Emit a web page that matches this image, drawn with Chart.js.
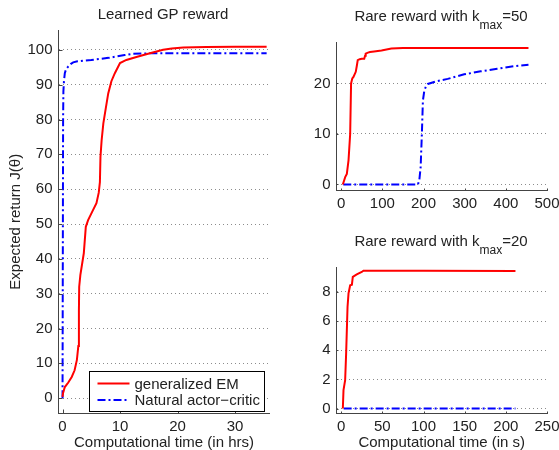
<!DOCTYPE html>
<html><head><meta charset="utf-8">
<script src="https://cdn.jsdelivr.net/npm/chart.js@4/dist/chart.umd.min.js"></script>
<style>
html,body{margin:0;padding:0;background:#fff;}
#wrap{position:relative;width:559px;height:450px;overflow:hidden;font-family:"Liberation Sans",Arial,sans-serif;color:#222;}
canvas{position:absolute;left:0;top:0;}
.ttl{position:absolute;font-size:15px;line-height:15px;white-space:nowrap;transform:translateX(-50%);}
.ttl sub{font-size:12px;line-height:0;vertical-align:-8px;}
</style></head><body>
<div id="wrap">
<canvas id="c1" width="559" height="450"></canvas>
<canvas id="c2" width="559" height="450"></canvas>
<canvas id="c3" width="559" height="450"></canvas>
<div class="ttl" style="left:163px;top:6px">Learned GP reward</div>
<div class="ttl" style="left:441px;top:8px">Rare reward with k<sub>max</sub>=50</div>
<div class="ttl" style="left:441px;top:233px">Rare reward with k<sub>max</sub>=20</div>
</div>
<script>
// ---------- data ----------
const seriesNames = ['generalized EM', 'Natural actor\u2212critic'];

// Learned GP reward (x in hrs)
const gpEmX = [0, 0.1, 0.4, 1.0, 1.6, 2.1, 2.5, 2.75, 2.85, 2.9, 3.1, 3.7, 4.05, 4.45, 5.3, 5.9, 6.3, 6.5, 6.6, 6.8, 7.1, 7.5, 7.95, 8.5, 9.1, 10.0, 11.1, 13, 15.2, 17.5, 19, 21, 25, 30, 35.5];
const gpEmY = [0.4, 1.5, 3.2, 4.5, 6.1, 8, 11, 15, 25, 32, 35.3, 41.6, 49.2, 51.1, 54, 56, 59, 62, 69.3, 74, 78.9, 83, 87.5, 91, 93.3, 96.2, 97.1, 98, 99, 100, 100.4, 100.7, 100.8, 100.9, 100.9];
const gpAcX = [0, 0.05, 0.1, 0.15, 0.25, 0.4, 0.6, 0.98, 1.4, 1.85, 2.6, 3.6, 5, 6.5, 8, 9.4, 10.8, 12.3, 15.2, 20, 25, 30, 35.5];
const gpAcY = [0, 40, 80, 88, 91, 93.3, 94.4, 95.2, 95.9, 96.4, 96.7, 96.9, 97.1, 97.4, 97.7, 98.1, 98.5, 98.9, 99, 99, 99, 99, 99];
const gpXTicks = [0, 10, 20, 30];
const gpYTicks = [0, 10, 20, 30, 40, 50, 60, 70, 80, 90, 100];

// Rare reward kmax=50 (x in s)
const k50EmX = [4, 9.7, 13.7, 17.8, 21.8, 24, 27, 29.8, 35.4, 38, 40.2, 45, 50, 56, 58, 59.5, 65, 70, 80, 98, 122, 150, 178, 300, 455];
const k50EmY = [0, 1.45, 2.1, 4.75, 10, 20, 21, 21.3, 22.3, 23.5, 24.6, 24.8, 24.9, 24.9, 25.5, 25.9, 26.1, 26.2, 26.3, 26.5, 26.9, 27.0, 27.0, 27.0, 27.0];
const k50AcX = [5, 100, 186.5, 190, 193, 196, 198.5, 202, 206, 210.6, 230, 258.8, 298.8, 339, 379, 419, 455];
const k50AcY = [0, 0, 0, 1, 3.4, 10, 16.6, 18.6, 19.4, 19.9, 20.4, 20.9, 21.8, 22.4, 22.9, 23.4, 23.7];
const k50XTicks = [0, 100, 200, 300, 400, 500];
const k50YTicks = [0, 10, 20];

// Rare reward kmax=20 (x in s)
const k20EmX = [2, 2.8, 4.8, 6, 7.7, 8.9, 10.9, 13, 14.1, 18.9, 25, 27, 100, 211.7];
const k20EmY = [0, 1.26, 1.94, 3.77, 6.97, 7.9, 8.46, 8.5, 9.03, 9.2, 9.37, 9.45, 9.45, 9.44];
const k20AcX = [3, 211.7];
const k20AcY = [0, 0];
const k20XTicks = [0, 50, 100, 150, 200, 250];
const k20YTicks = [0, 2, 4, 6, 8];

// ---------- styling ----------
const W = 559, H = 450;
const FF = '"Liberation Sans", Arial, sans-serif';
const TXT = '#222';
const AXIS = '#444';
const RED = '#ff0000', BLUE = '#0000ff';
const DASHDOT = [8, 3, 2, 3];

function pts(xs, ys) { return xs.map((x, i) => ({x: x, y: ys[i]})); }

function tickPlugin(len) {
  return {
    id: 'inTicks',
    afterDatasetsDraw(chart) {
      const ctx = chart.ctx, a = chart.chartArea, xs = chart.scales.x, ys = chart.scales.y;
      ctx.save();
      ctx.strokeStyle = AXIS; ctx.lineWidth = 1; ctx.setLineDash([]);
      ctx.beginPath();
      xs.ticks.forEach(t => { const p = Math.round(xs.getPixelForValue(t.value)) + 0.5; ctx.moveTo(p, a.bottom); ctx.lineTo(p, a.bottom - len); });
      ys.ticks.forEach(t => { const p = Math.round(ys.getPixelForValue(t.value)) + 0.5; ctx.moveTo(a.left, p); ctx.lineTo(a.left + len, p); });
      ctx.stroke();
      ctx.restore();
    }
  };
}

const legendPlugin = {
  id: 'boxLegend',
  afterDatasetsDraw(chart) {
    const ctx = chart.ctx, a = chart.chartArea;
    const bx = Math.round(a.left + 30) + 0.5, by = Math.round(a.bottom - 43) + 0.5, bw = 175, bh = 40;
    ctx.save();
    ctx.fillStyle = '#fff'; ctx.fillRect(bx, by, bw, bh);
    ctx.strokeStyle = '#000'; ctx.lineWidth = 1; ctx.setLineDash([]);
    ctx.strokeRect(bx, by, bw, bh);
    chart.data.datasets.forEach((ds, i) => {
      const y = by + 12 + i * 16.5;
      ctx.strokeStyle = ds.borderColor; ctx.lineWidth = 2;
      ctx.setLineDash(ds.borderDash || []);
      ctx.beginPath(); ctx.moveTo(bx + 8, y); ctx.lineTo(bx + 40, y); ctx.stroke();
      ctx.setLineDash([]);
      ctx.fillStyle = TXT; ctx.font = '15px ' + FF; ctx.textBaseline = 'middle'; ctx.textAlign = 'left';
      ctx.fillText(ds.label, bx + 45, y + 1);
    });
    ctx.restore();
  }
};

function makeChart(id, c) {
  const plugins = [tickPlugin(c.tickLen)];
  if (c.legend) plugins.push(legendPlugin);
  return new Chart(document.getElementById(id), {
    type: 'line',
    data: {
      datasets: [
        {label: seriesNames[0], data: pts(c.emX, c.emY), borderColor: RED, borderWidth: 2, pointRadius: 0, tension: 0, fill: false},
        {label: seriesNames[1], data: pts(c.acX, c.acY), borderColor: BLUE, borderWidth: 2, borderDash: DASHDOT, pointRadius: 0, tension: 0, fill: false}
      ]
    },
    options: {
      responsive: false, animation: false, devicePixelRatio: 1,
      layout: {padding: {left: 0, top: c.T, right: W - c.R, bottom: 0}},
      plugins: {legend: {display: false}, tooltip: {enabled: false}, title: {display: false}},
      scales: {
        x: {
          type: 'linear', min: c.xMin, max: c.xMax,
          afterBuildTicks: s => { s.ticks = c.xTicks.map(v => ({value: v})); },
          afterFit: s => { s.height = H - c.B; s.paddingLeft = 0; s.paddingRight = 0; },
          grid: {display: false, drawTicks: false},
          border: {display: true, color: AXIS, width: 1},
          ticks: {autoSkip: false, maxRotation: 0, minRotation: 0, padding: 4, color: TXT, font: {size: 15, family: FF}},
          title: {display: !!c.xTitle, text: c.xTitle || '', color: TXT, font: {size: 15, family: FF, lineHeight: 1}, padding: {top: 0, bottom: c.xTitlePad || 0}}
        },
        y: {
          type: 'linear', min: c.yMin, max: c.yMax,
          afterBuildTicks: s => { s.ticks = c.yTicks.map(v => ({value: v})); },
          afterFit: s => { s.width = c.L; s.paddingTop = 0; s.paddingBottom = 0; },
          grid: {display: true, drawTicks: false, color: 'rgba(0,0,0,0.45)', lineWidth: 1},
          border: {display: true, color: AXIS, width: 1, dash: [1, 3]},
          ticks: {autoSkip: false, padding: 6, color: TXT, font: {size: 15, family: FF}},
          title: {display: !!c.yTitle, text: c.yTitle || '', color: TXT, font: {size: 15, family: FF, lineHeight: 1}, padding: {top: 8, bottom: 0}}
        }
      }
    },
    plugins: plugins
  });
}

Chart.defaults.font.family = FF;

makeChart('c1', {
  emX: gpEmX, emY: gpEmY, acX: gpAcX, acY: gpAcY, xTicks: gpXTicks, yTicks: gpYTicks,
  xMin: -0.7, xMax: 36, yMin: -4.4, yMax: 105.7,
  L: 58.5, R: 269.5, T: 30, B: 413.5, tickLen: 4, legend: true,
  xTitle: 'Computational time (in hrs)', xTitlePad: 0, yTitle: 'Expected return J(\u03B8)'
});
makeChart('c2', {
  emX: k50EmX, emY: k50EmY, acX: k50AcX, acY: k50AcY, xTicks: k50XTicks, yTicks: k50YTicks,
  xMin: -11.4, xMax: 500, yMin: -1.19, yMax: 28.2,
  L: 336.5, R: 547, T: 42, B: 190.5, tickLen: 2
});
makeChart('c3', {
  emX: k20EmX, emY: k20EmY, acX: k20AcX, acY: k20AcY, xTicks: k20XTicks, yTicks: k20YTicks,
  xMin: -5.7, xMax: 250, yMin: -0.34, yMax: 9.71,
  L: 336.5, R: 547, T: 267, B: 413.5, tickLen: 2,
  xTitle: 'Computational time (in s)', xTitlePad: 0
});
</script>
</body></html>
